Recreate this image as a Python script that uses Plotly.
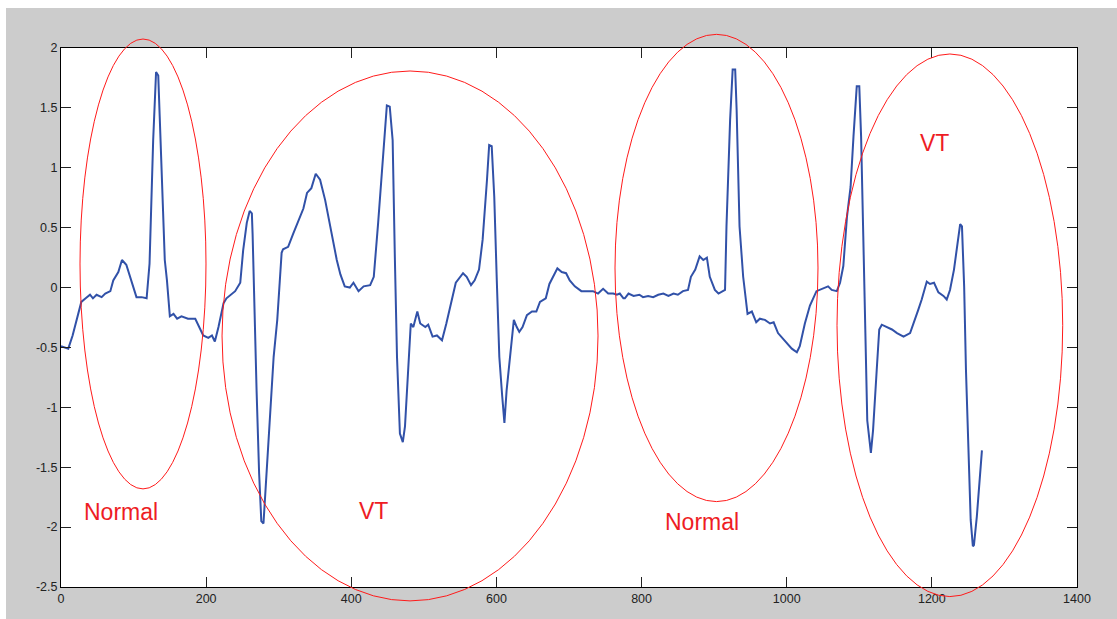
import plotly.graph_objects as go

# ECG trace: sample index vs amplitude (mV)
SAMPLE = [
    0, 5, 10, 16, 22, 28, 34, 40, 44, 49, 56, 61, 68, 72, 79, 84, 90, 97, 104, 111,
    118, 122, 125, 127, 131, 134, 136, 140, 143, 146, 150, 155, 160, 166, 175, 185, 189, 196, 203, 208,
    212, 217, 224, 228, 240, 247, 251, 256, 260, 263, 264, 266.5, 269.5, 273, 276, 279, 281, 286, 293, 298,
    304, 306, 313, 320, 329, 334, 339, 345, 351, 357, 364, 371, 380, 385, 391, 398, 403, 410, 417, 426,
    431, 437, 444, 449, 453, 457, 460, 463, 467, 471, 474, 479, 482, 485.5, 491, 495, 502, 506, 512, 518,
    525, 531, 538, 544, 554, 559, 565, 570, 576, 581, 587, 590, 593.5, 597, 600.5, 604, 608, 611, 614, 620,
    624, 628, 631.5, 636, 642, 649, 655, 660, 668, 673, 678, 684, 690, 696, 701, 708, 717, 724, 733, 740,
    747, 754, 761, 766, 770, 775, 777, 782, 789, 797, 802, 809, 816, 823, 830, 837, 844, 850, 857, 864,
    868, 874, 880, 885, 890, 894, 901, 906, 915, 917, 922, 925.5, 929, 931, 935, 940, 946, 952, 958, 963,
    970, 977, 982, 988, 998, 1007, 1014, 1018, 1025, 1032, 1041, 1050, 1057, 1062, 1069, 1073.5, 1078, 1083, 1088, 1092,
    1096.5, 1100, 1102.5, 1105.5, 1108, 1111, 1116, 1119, 1124, 1127.5, 1131, 1138, 1145, 1152, 1161, 1170, 1177, 1181, 1186, 1193,
    1197.5, 1203, 1209, 1216, 1220.5, 1225, 1230.5, 1235, 1239, 1241.5, 1244.5, 1247, 1250.5, 1253.5, 1256.5, 1258, 1262, 1266.5, 1269,
]
AMPLITUDE = [
    -0.49, -0.50, -0.51, -0.40, -0.25, -0.12, -0.09, -0.06, -0.09, -0.06, -0.08, -0.05, -0.03, 0.06, 0.13, 0.23, 0.19, 0.06, -0.08, -0.08,
    -0.09, 0.20, 0.82, 1.23, 1.80, 1.77, 1.43, 0.82, 0.23, 0.06, -0.24, -0.22, -0.26, -0.24, -0.26, -0.26, -0.31, -0.40, -0.42, -0.40,
    -0.45, -0.33, -0.13, -0.09, -0.03, 0.04, 0.31, 0.54, 0.64, 0.62, 0.45, -0.24, -0.86, -1.55, -1.95, -1.97, -1.77, -1.27, -0.58, -0.27,
    0.29, 0.32, 0.34, 0.45, 0.59, 0.66, 0.79, 0.83, 0.95, 0.90, 0.73, 0.51, 0.23, 0.11, 0.01, 0.00, 0.04, -0.03, 0.01, 0.02,
    0.09, 0.54, 1.09, 1.52, 1.51, 1.23, 0.26, -0.58, -1.22, -1.29, -1.16, -0.58, -0.30, -0.33, -0.20, -0.30, -0.33, -0.31, -0.41, -0.40,
    -0.44, -0.30, -0.13, 0.04, 0.12, 0.09, 0.02, 0.06, 0.15, 0.40, 0.90, 1.19, 1.18, 0.76, 0.06, -0.58, -0.91, -1.13, -0.86, -0.49,
    -0.27, -0.33, -0.37, -0.33, -0.23, -0.20, -0.20, -0.12, -0.09, 0.03, 0.09, 0.16, 0.13, 0.12, 0.06, 0.01, -0.03, -0.03, -0.03, -0.05,
    -0.01, -0.05, -0.05, -0.06, -0.05, -0.09, -0.09, -0.05, -0.07, -0.06, -0.08, -0.07, -0.08, -0.06, -0.05, -0.07, -0.05, -0.06, -0.03, -0.02,
    0.09, 0.15, 0.26, 0.23, 0.25, 0.09, -0.02, -0.05, -0.02, 0.51, 1.40, 1.82, 1.82, 1.48, 0.51, 0.09, -0.22, -0.20, -0.29, -0.26,
    -0.27, -0.30, -0.29, -0.38, -0.45, -0.51, -0.54, -0.49, -0.30, -0.15, -0.03, -0.01, 0.01, -0.02, -0.03, 0.04, 0.18, 0.59, 0.84, 1.26,
    1.68, 1.68, 1.26, 0.43, -0.41, -1.11, -1.38, -1.19, -0.69, -0.35, -0.31, -0.33, -0.35, -0.38, -0.41, -0.38, -0.27, -0.19, -0.10, 0.05,
    0.03, 0.04, -0.04, -0.07, -0.10, -0.02, 0.15, 0.37, 0.53, 0.51, 0.01, -0.69, -1.38, -1.94, -2.16, -2.15, -1.91, -1.58, -1.36,
]

# Rhythm regions: label, label position, and the enclosing ellipse extent (data units)
REGION_LABELS = ["Normal", "VT", "Normal", "VT"]
LABEL_X = [83, 430, 883, 1203]
LABEL_Y = [-1.87, -1.865, -1.955, 1.21]
ELLIPSE_X0 = [26.2, 221.9, 763.4, 1069.3]
ELLIPSE_X1 = [199.8, 740.0, 1043.1, 1380.3]
ELLIPSE_Y0 = [-1.681, -2.616, -1.787, -2.580]
ELLIPSE_Y1 = [2.075, 1.808, 2.114, 1.950]

X_TICKS = [0, 200, 400, 600, 800, 1000, 1200, 1400]
X_TICK_LABELS = ["0", "200", "400", "600", "800", "1000", "1200", "1400"]
Y_TICKS = [-2.5, -2, -1.5, -1, -0.5, 0, 0.5, 1, 1.5, 2]
Y_TICK_LABELS = ["-2.5", "-2", "-1.5", "-1", "-0.5", "0", "0.5", "1", "1.5", "2"]

X_RANGE = [0, 1400]
Y_RANGE = [-2.5, 2]

W, H = 1117, 619
M_L, M_R, M_T, M_B = 61, 40, 48, 32
PLOT_W = W - M_L - M_R
PLOT_H = H - M_T - M_B

FIG_GRAY = "#cccccc"
TRACE_BLUE = "#3151a8"
MARK_RED = "#ff1a1a"
TEXT_RED = "#ee1c24"
FONT = "Liberation Sans, Arial, sans-serif"


def xp(x):
    """data x -> paper fraction"""
    return (x - X_RANGE[0]) / (X_RANGE[1] - X_RANGE[0])


def yp(y):
    """data y -> paper fraction"""
    return (y - Y_RANGE[0]) / (Y_RANGE[1] - Y_RANGE[0])


fig = go.Figure()

fig.add_trace(go.Scatter(
    x=SAMPLE, y=AMPLITUDE, mode="lines",
    line=dict(color=TRACE_BLUE, width=2),
    hoverinfo="skip", showlegend=False,
))

shapes = []
# ellipses are drawn in paper space so they can spill past the axes box
for x0, x1, y0, y1 in zip(ELLIPSE_X0, ELLIPSE_X1, ELLIPSE_Y0, ELLIPSE_Y1):
    shapes.append(dict(
        type="circle", xref="paper", yref="paper",
        x0=xp(x0), x1=xp(x1), y0=yp(y0), y1=yp(y1),
        line=dict(color=MARK_RED, width=1), fillcolor="rgba(0,0,0,0)",
        layer="above",
    ))

# thin white border along the top and left edges of the figure window
shapes.append(dict(
    type="rect", xref="paper", yref="paper",
    x0=-M_L / PLOT_W - 0.01, x1=(6 - M_L) / PLOT_W,
    y0=-M_B / PLOT_H - 0.01, y1=(PLOT_H + M_T) / PLOT_H + 0.01,
    fillcolor="white", line=dict(width=0), layer="above",
))
shapes.append(dict(
    type="rect", xref="paper", yref="paper",
    x0=-M_L / PLOT_W - 0.01, x1=(PLOT_W + M_R) / PLOT_W + 0.01,
    y0=(PLOT_H + M_T - 8) / PLOT_H, y1=(PLOT_H + M_T) / PLOT_H + 0.01,
    fillcolor="white", line=dict(width=0), layer="above",
))

annotations = [
    dict(x=lx, y=ly, xref="x", yref="y", text=t, showarrow=False,
         xanchor="center", yanchor="middle",
         font=dict(family=FONT, size=23, color=TEXT_RED))
    for t, lx, ly in zip(REGION_LABELS, LABEL_X, LABEL_Y)
]

axis_common = dict(
    showgrid=False, zeroline=False,
    showline=True, linecolor="black", linewidth=1, mirror="ticks",
    ticks="inside", ticklen=10, tickwidth=1, tickcolor="#222222",
    tickfont=dict(family=FONT, size=12.5, color="#222222"),
    tickmode="array",
)

fig.update_layout(
    width=W, height=H,
    margin=dict(l=M_L, r=M_R, t=M_T, b=M_B, pad=0),
    paper_bgcolor=FIG_GRAY, plot_bgcolor="white",
    xaxis=dict(range=X_RANGE, tickvals=X_TICKS, ticktext=X_TICK_LABELS, **axis_common),
    yaxis=dict(range=Y_RANGE, tickvals=Y_TICKS, ticktext=Y_TICK_LABELS, **axis_common),
    shapes=shapes, annotations=annotations,
    showlegend=False,
)

fig.write_html("out.html")
